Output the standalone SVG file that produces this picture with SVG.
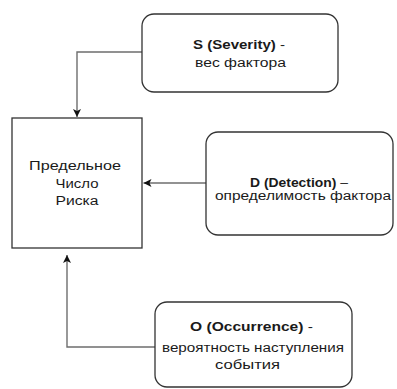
<svg xmlns="http://www.w3.org/2000/svg" width="397" height="389" viewBox="0 0 397 389">
<style>
.box{fill:#fff;stroke:#333;stroke-width:1.3}
.edge{fill:none;stroke:#6e6e6e;stroke-width:1.4}
text{font-family:"Liberation Sans",Arial,sans-serif;font-size:12.5px;fill:#1a1a1a;text-anchor:middle}
.b{font-weight:bold}
</style>
<defs>
<marker id="arr" markerWidth="9" markerHeight="9" refX="8" refY="4" orient="auto" markerUnits="userSpaceOnUse">
<path d="M0,0 L8,4 L0,8 L2,4 z" fill="#111"/>
</marker>
</defs>
<rect width="397" height="389" fill="#fff"/>
<g id="connectors">
<path class="edge" d="M142,52 H77 V117" marker-end="url(#arr)"/>
<path class="edge" d="M206,183 H143.5" marker-end="url(#arr)"/>
<path class="edge" d="M155,347 H67 V255" marker-end="url(#arr)"/>
</g>
<g id="rpn">
<rect class="box" x="12" y="118" width="130" height="130"/>
<text x="75" y="170" textLength="92" lengthAdjust="spacingAndGlyphs">Предельное</text>
<text x="77" y="188" textLength="43" lengthAdjust="spacingAndGlyphs">Число</text>
<text x="77" y="205" textLength="43" lengthAdjust="spacingAndGlyphs">Риска</text>
</g>
<g id="severity">
<rect class="box" x="142" y="14" width="196" height="78" rx="12"/>
<text x="239" y="49" textLength="92" lengthAdjust="spacingAndGlyphs"><tspan class="b">S (Severity)</tspan> -</text>
<text x="240.5" y="67" textLength="91" lengthAdjust="spacingAndGlyphs">вес фактора</text>
</g>
<g id="detection">
<rect class="box" x="206" y="132" width="187" height="103" rx="12"/>
<text x="299" y="187" textLength="98" lengthAdjust="spacingAndGlyphs"><tspan class="b">D (Detection)</tspan> –</text>
<text x="303" y="200" textLength="176" lengthAdjust="spacingAndGlyphs">определимость фактора</text>
</g>
<g id="occurrence">
<rect class="box" x="155" y="302" width="197" height="85" rx="12"/>
<text x="251.5" y="331" textLength="123" lengthAdjust="spacingAndGlyphs"><tspan class="b">O (Occurrence)</tspan> -</text>
<text x="253" y="352" textLength="182" lengthAdjust="spacingAndGlyphs">вероятность наступления</text>
<text x="247.5" y="369" textLength="65" lengthAdjust="spacingAndGlyphs">события</text>
</g>
</svg>
